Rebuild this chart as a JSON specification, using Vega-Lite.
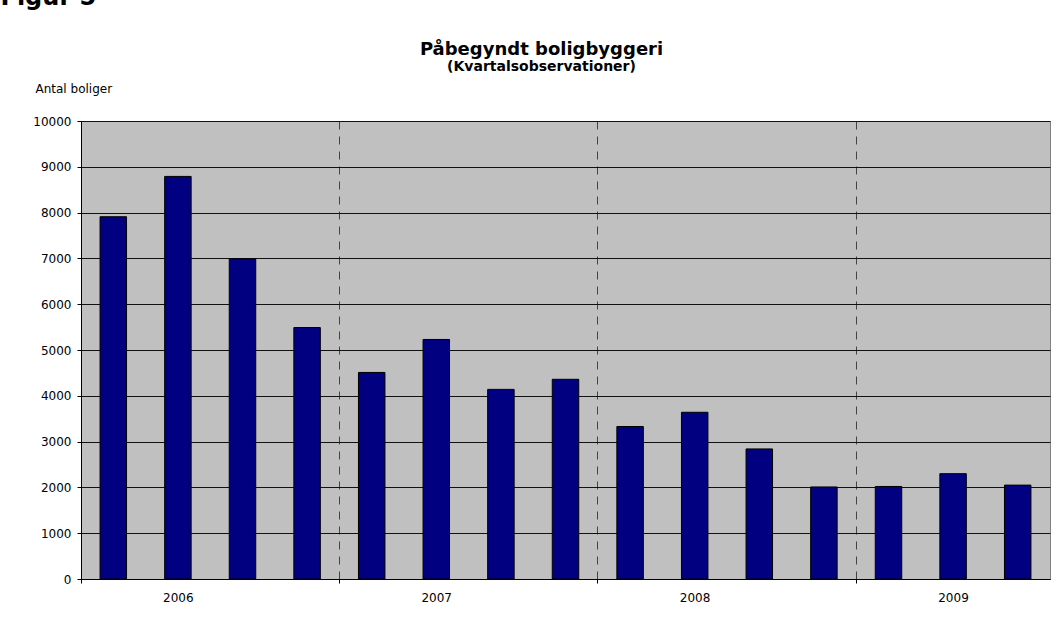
{
  "$schema": "https://vega.github.io/schema/vega-lite/v6.json",
  "autosize": {"type": "none"},
  "padding": {"left": 81, "top": 121, "right": 8, "bottom": 40},
  "width": 969,
  "height": 458,
  "background": "white",
  "title": {
    "text": "Påbegyndt boligbyggeri",
    "subtitle": "(Kvartalsobservationer)",
    "font": "DejaVu Sans",
    "fontSize": 18,
    "fontWeight": "bold",
    "color": "black",
    "subtitleFont": "DejaVu Sans",
    "subtitleFontSize": 14,
    "subtitleFontWeight": "bold",
    "subtitleColor": "black",
    "subtitlePadding": 1,
    "anchor": "middle",
    "frame": "group",
    "dx": -24,
    "dy": 99,
    "offset": 10
  },
  "data": {
    "values": [
      {"kvartal": "2006 K1", "aar": "2006", "boliger": 7910},
      {"kvartal": "2006 K2", "aar": "2006", "boliger": 8790},
      {"kvartal": "2006 K3", "aar": "2006", "boliger": 6990},
      {"kvartal": "2006 K4", "aar": "2006", "boliger": 5490},
      {"kvartal": "2007 K1", "aar": "2007", "boliger": 4510},
      {"kvartal": "2007 K2", "aar": "2007", "boliger": 5230},
      {"kvartal": "2007 K3", "aar": "2007", "boliger": 4140},
      {"kvartal": "2007 K4", "aar": "2007", "boliger": 4360},
      {"kvartal": "2008 K1", "aar": "2008", "boliger": 3330},
      {"kvartal": "2008 K2", "aar": "2008", "boliger": 3640},
      {"kvartal": "2008 K3", "aar": "2008", "boliger": 2840},
      {"kvartal": "2008 K4", "aar": "2008", "boliger": 2010},
      {"kvartal": "2009 K1", "aar": "2009", "boliger": 2020},
      {"kvartal": "2009 K2", "aar": "2009", "boliger": 2300},
      {"kvartal": "2009 K3", "aar": "2009", "boliger": 2050}
    ]
  },
  "mark": {"type": "bar", "color": "#000080", "stroke": "#000000", "strokeWidth": 1, "width": {"band": 0.41}},
  "encoding": {
    "x": {
      "field": "kvartal",
      "type": "nominal",
      "sort": null,
      "scale": {"paddingInner": 0, "paddingOuter": 0},
      "axis": {
        "title": "Figur 5",
        "titleFont": "DejaVu Sans",
        "titleFontSize": 24,
        "titleFontWeight": "bold",
        "titleColor": "black",
        "titleAlign": "left",
        "titleBaseline": "alphabetic",
        "titleX": -81,
        "titleY": -575,
        "values": ["2006 K1", "2007 K1", "2008 K1", "2009 K1"],
        "bandPosition": 0,
        "labelExpr": "slice(datum.value, 0, 4)",
        "labelOffset": 65,
        "labelAngle": 0,
        "labelFont": "DejaVu Sans",
        "labelFontSize": 12,
        "labelColor": "black",
        "labelPadding": 9,
        "labelOverlap": false,
        "labelFlush": false,
        "tickSize": 4,
        "tickColor": "black",
        "domainColor": "black",
        "grid": true,
        "gridColor": "#444444",
        "gridDash": [8, 7],
        "gridWidth": 1
      }
    },
    "y": {
      "field": "boliger",
      "type": "quantitative",
      "scale": {"domain": [0, 10000], "nice": false},
      "axis": {
        "title": "Antal boliger",
        "titleAngle": 0,
        "titleAlign": "left",
        "titleBaseline": "alphabetic",
        "titleX": -46,
        "titleY": -29,
        "titleFont": "DejaVu Sans",
        "titleFontSize": 12,
        "titleFontWeight": "normal",
        "titleColor": "black",
        "values": [0, 1000, 2000, 3000, 4000, 5000, 6000, 7000, 8000, 9000, 10000],
        "format": "d",
        "labelFont": "DejaVu Sans",
        "labelFontSize": 12,
        "labelColor": "black",
        "labelPadding": 6,
        "labelOverlap": false,
        "labelFlush": false,
        "tickSize": 4,
        "tickColor": "black",
        "domainColor": "black",
        "grid": true,
        "gridColor": "#111111",
        "gridWidth": 1
      }
    }
  },
  "config": {"view": {"fill": "#C0C0C0", "stroke": "#808080"}}
}
